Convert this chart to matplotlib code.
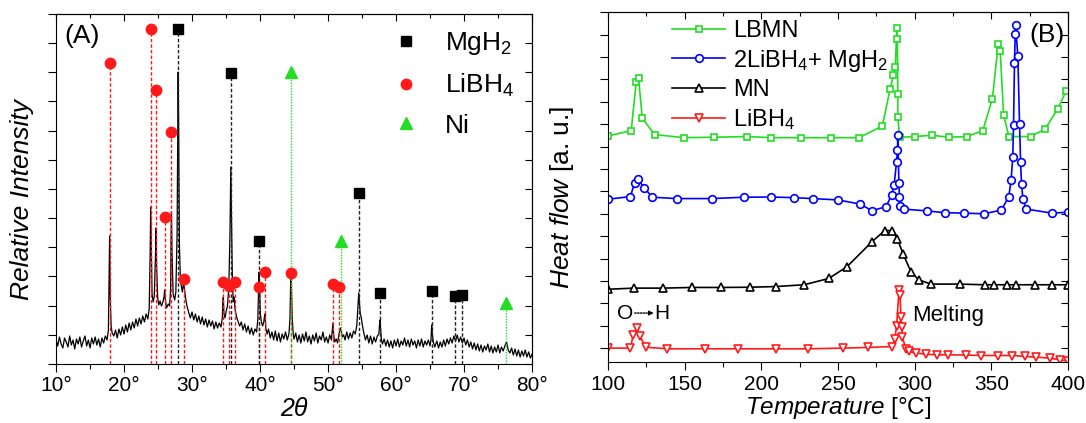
import matplotlib
matplotlib.use('Agg')
import matplotlib.pyplot as plt
import numpy as np
from matplotlib.ticker import MultipleLocator, NullFormatter

plt.rcParams['font.family'] = ['Liberation Sans', 'DejaVu Sans']
plt.rcParams['mathtext.fontset'] = 'custom'
plt.rcParams['mathtext.rm'] = 'Liberation Sans'
plt.rcParams['mathtext.it'] = 'Liberation Sans:italic'

GREEN = '#22DD22'
RED = '#FF1A1A'
BLUE = '#0000FF'

# ── (A) XRD scan (2theta, counts) ─────────────────────────────────────────────
xrd_scan = [
    (10.00, 24), (10.25, 18), (10.50, 27), (10.75, 20), (11.00, 16), (11.25, 26),
    (11.50, 22), (11.75, 17), (12.00, 28), (12.25, 19), (12.50, 24), (12.75, 15),
    (13.00, 25), (13.25, 20), (13.50, 27), (13.75, 17), (14.00, 23), (14.25, 28),
    (14.50, 18), (14.75, 24), (15.00, 16), (15.25, 26), (15.50, 20), (15.75, 27),
    (16.00, 19), (16.25, 25), (16.50, 17), (16.75, 26), (17.00, 21), (17.25, 28),
    (17.50, 24), (17.70, 34), (17.82, 95), (17.88, 128), (17.96, 70), (18.10, 38),
    (18.25, 31), (18.50, 28), (18.75, 34), (19.00, 26), (19.25, 35), (19.50, 29),
    (19.75, 37), (20.00, 30), (20.25, 39), (20.50, 32), (20.75, 41), (21.00, 34),
    (21.25, 42), (21.50, 36), (21.75, 45), (22.00, 38), (22.25, 46), (22.50, 40),
    (22.75, 48), (23.00, 42), (23.25, 50), (23.50, 45), (23.70, 55), (23.84, 110),
    (23.92, 157), (24.00, 120), (24.12, 70), (24.28, 62), (24.45, 68), (24.63, 110),
    (24.71, 136), (24.80, 95), (24.95, 66), (25.10, 59), (25.30, 63), (25.50, 58),
    (25.72, 62), (25.90, 68), (25.97, 74), (26.08, 64), (26.25, 56), (26.50, 60),
    (26.70, 58), (26.85, 75), (26.92, 130), (26.97, 152), (27.06, 110), (27.22, 70),
    (27.45, 64), (27.62, 72), (27.80, 130), (27.90, 240), (27.96, 292), (28.04, 230),
    (28.14, 120), (28.28, 86), (28.42, 78), (28.58, 72), (28.76, 82), (28.90, 74),
    (29.05, 66), (29.25, 58), (29.50, 52), (29.75, 46), (30.00, 52), (30.25, 44),
    (30.50, 50), (30.75, 42), (31.00, 48), (31.25, 40), (31.50, 47), (31.75, 39),
    (32.00, 45), (32.25, 37), (32.50, 44), (32.75, 38), (33.00, 43), (33.25, 35),
    (33.50, 42), (33.75, 36), (34.00, 41), (34.25, 37), (34.45, 46), (34.52, 60),
    (34.60, 67), (34.70, 50), (34.85, 46), (35.00, 52), (35.20, 58), (35.40, 75),
    (35.58, 130), (35.70, 197), (35.80, 150), (35.92, 90), (36.05, 62), (36.20, 67),
    (36.32, 55), (36.45, 50), (36.60, 46), (36.80, 42), (37.00, 38), (37.25, 42),
    (37.50, 34), (37.75, 40), (38.00, 32), (38.25, 38), (38.50, 30), (38.75, 36),
    (39.00, 29), (39.25, 35), (39.50, 32), (39.68, 45), (39.80, 80), (39.87, 92),
    (39.95, 75), (40.05, 50), (40.20, 42), (40.38, 38), (40.55, 42), (40.66, 48),
    (40.74, 50), (40.85, 36), (41.05, 30), (41.25, 35), (41.50, 26), (41.75, 32),
    (42.00, 24), (42.25, 33), (42.50, 23), (42.75, 31), (43.00, 22), (43.25, 30),
    (43.50, 25), (43.75, 32), (44.00, 24), (44.25, 30), (44.40, 45), (44.50, 80),
    (44.56, 92), (44.64, 70), (44.74, 45), (44.88, 30), (45.00, 25), (45.25, 31),
    (45.50, 22), (45.75, 29), (46.00, 21), (46.25, 30), (46.50, 23), (46.75, 32),
    (47.00, 22), (47.25, 28), (47.50, 20), (47.75, 29), (48.00, 23), (48.25, 31),
    (48.50, 21), (48.75, 28), (49.00, 24), (49.25, 32), (49.50, 22), (49.75, 27),
    (50.00, 21), (50.25, 29), (50.50, 24), (50.64, 35), (50.72, 41), (50.84, 28),
    (51.00, 22), (51.20, 25), (51.40, 21), (51.62, 30), (51.80, 36), (51.95, 33),
    (52.10, 27), (52.30, 29), (52.50, 24), (52.75, 32), (53.00, 25), (53.25, 31),
    (53.50, 26), (53.75, 33), (54.00, 30), (54.22, 38), (54.38, 55), (54.52, 71),
    (54.62, 62), (54.74, 50), (54.88, 47), (55.02, 40), (55.20, 33), (55.50, 24),
    (55.75, 29), (56.00, 21), (56.25, 28), (56.50, 20), (56.75, 27), (57.00, 22),
    (57.25, 28), (57.48, 30), (57.62, 44), (57.72, 36), (57.85, 24), (58.00, 20),
    (58.25, 25), (58.50, 18), (58.75, 24), (59.00, 17), (59.25, 23), (59.50, 16),
    (59.75, 24), (60.00, 18), (60.25, 25), (60.50, 17), (60.75, 23), (61.00, 19),
    (61.25, 26), (61.50, 18), (61.75, 24), (62.00, 17), (62.25, 25), (62.50, 19),
    (62.75, 23), (63.00, 16), (63.25, 24), (63.50, 18), (63.75, 25), (64.00, 17),
    (64.25, 23), (64.50, 19), (64.75, 24), (65.00, 18), (65.15, 25), (65.24, 39),
    (65.34, 30), (65.48, 22), (65.70, 17), (66.00, 23), (66.25, 16), (66.50, 22),
    (66.75, 17), (67.00, 24), (67.25, 18), (67.50, 25), (67.75, 20), (68.00, 26),
    (68.25, 21), (68.50, 28), (68.75, 23), (69.00, 29), (69.25, 22), (69.50, 27),
    (69.75, 21), (70.00, 26), (70.25, 19), (70.50, 24), (70.75, 17), (71.00, 22),
    (71.25, 15), (71.50, 21), (71.75, 14), (72.00, 20), (72.25, 13), (72.50, 19),
    (72.75, 12), (73.00, 18), (73.25, 14), (73.50, 20), (73.75, 12), (74.00, 18),
    (74.25, 11), (74.50, 17), (74.75, 12), (75.00, 19), (75.25, 11), (75.50, 17),
    (75.75, 13), (76.00, 18), (76.25, 22), (76.50, 14), (76.75, 11), (77.00, 16),
    (77.25, 9), (77.50, 15), (77.75, 8), (78.00, 14), (78.25, 7), (78.50, 13),
    (78.75, 8), (79.00, 14), (79.25, 7), (79.50, 12), (79.75, 6), (80.00, 10),
]
two_theta = [p[0] for p in xrd_scan]
counts = [p[1] for p in xrd_scan]

# reflection markers (position, marker height)
mgh2_pos = [27.96, 35.74, 39.88, 54.54, 57.64, 65.25, 68.6, 69.7]
mgh2_h = [335, 291, 123, 171, 71, 73, 68, 69]
libh4_pos = [17.88, 23.92, 24.71, 25.97, 26.96, 28.80, 34.58, 35.45, 36.26,
             39.78, 40.73, 44.56, 50.70, 51.65]
libh4_h = [301, 335, 274, 147, 232, 85, 82, 78, 82, 77, 92, 91, 80, 77]
ni_pos = [44.56, 51.91, 76.23]
ni_h = [292, 123, 61]

xrd_ticks = [10, 20, 30, 40, 50, 60, 70, 80]
xrd_ticklabels = [f'{t}°' for t in xrd_ticks]

# ── (B) DSC traces ────────────────────────────────────────────────────────────
lbmn_T = [100, 115.1, 118.4, 119.9, 122.3, 130.4, 149.5, 169.4, 190.6, 206.3,
          226.0, 245.3, 263.7, 278.9, 284.0, 286.1, 287.4, 288.3, 288.7, 289.0,
          289.0, 290.2, 300.2, 311.2, 322.1, 333.9, 344.4, 350.7, 354.5, 355.8,
          358.0, 361.5, 375.7, 385.1, 393.2, 398.7]
lbmn_q = [9.48, 9.71, 11.90, 12.08, 10.28, 9.54, 9.40, 9.42, 9.45, 9.40,
          9.40, 9.40, 9.40, 9.92, 11.58, 12.19, 12.57, 14.29, 13.79, 11.35,
          10.31, 9.42, 9.45, 9.51, 9.42, 9.45, 9.71, 11.14, 13.57, 13.27,
          10.42, 9.45, 9.45, 9.79, 10.67, 11.47]

mix_T = [100, 114.6, 117.3, 119.7, 123.4, 128.9, 144.9, 167.8, 188.4, 206.6,
         221.2, 233.5, 249.9, 264.1, 272.2, 281.4, 284.9, 286.6, 288.2, 288.8,
         289.0, 289.7, 290.1, 290.3, 292.9, 307.8, 319.6, 331.9, 345.4, 356.6,
         361.4, 362.9, 364.0, 364.5, 365.1, 365.6, 365.8, 367.3, 368.4, 369.1,
         369.7, 370.6, 372.8, 389.6, 400]
mix_q = [6.65, 6.77, 7.39, 7.54, 7.17, 6.74, 6.68, 6.68, 6.74, 6.75,
         6.72, 6.68, 6.62, 6.44, 6.14, 6.32, 6.84, 7.29, 8.33, 8.85,
         9.52, 7.39, 6.77, 6.35, 6.21, 6.13, 6.05, 6.03, 6.00, 6.17,
         6.77, 7.51, 8.53, 9.97, 12.72, 14.02, 14.43, 13.05, 10.01, 8.30,
         7.33, 6.66, 6.21, 6.03, 6.07]

mn_T = [100, 116.9, 135.9, 154.5, 173.8, 192.8, 209.3, 227.9, 243.9, 255.9,
        272.3, 280.4, 285.5, 288.8, 292.5, 297.5, 302.6, 310.7, 329.3, 345.7,
        351.6, 360.0, 366.1, 378.6, 389.5, 400]
mn_q = [2.63, 2.68, 2.68, 2.71, 2.71, 2.72, 2.75, 2.83, 3.11, 3.64,
        4.76, 5.25, 5.25, 4.87, 4.20, 3.42, 3.05, 2.86, 2.86, 2.83,
        2.83, 2.83, 2.83, 2.83, 2.83, 2.83]

libh4_T = [100, 114.6, 116.4, 118.6, 120.8, 124.5, 138.7, 163.2, 184.7, 209.4,
           230.2, 253.0, 269.6, 285.4, 287.1, 288.2, 289.8, 290.4, 291.1, 291.5,
           292.0, 294.2, 296.4, 300.8, 307.3, 314.3, 322.0, 333.6, 343.5, 354.4,
           363.8, 371.9, 379.1, 388.3, 394.9, 400]
libh4_q = [0.00, 0.00, 0.59, 0.89, 0.55, 0.04, -0.03, -0.03, -0.03, -0.03,
           -0.03, 0.00, 0.03, 0.07, 0.41, 0.99, 2.60, 2.38, 1.41, 0.94,
           0.49, -0.03, -0.15, -0.22, -0.27, -0.30, -0.30, -0.31, -0.33, -0.33,
           -0.33, -0.37, -0.40, -0.45, -0.52, -0.58]

dsc_ticks = [100, 150, 200, 250, 300, 350, 400]


def mirror_ticks(ax, xmajor, xminor, ymajor):
    # left/bottom ticks point out, top/right point in
    top = ax.secondary_xaxis('top')
    top.xaxis.set_major_locator(MultipleLocator(xmajor))
    top.xaxis.set_minor_locator(MultipleLocator(xminor))
    top.xaxis.set_major_formatter(NullFormatter())
    top.tick_params(which='major', direction='in', length=5, width=0.8)
    top.tick_params(which='minor', direction='in', length=3, width=0.8)
    right = ax.secondary_yaxis('right')
    right.set_yticks(ymajor)
    right.yaxis.set_major_formatter(NullFormatter())
    right.tick_params(direction='in', length=5, width=0.8)


fig = plt.figure(figsize=(10.86, 4.23), dpi=100)
axA = fig.add_axes([0.0516, 0.1395, 0.4383, 0.8274])
axB = fig.add_axes([0.5599, 0.1442, 0.4235, 0.8267])

# ===========================================================================
# (A)
# ===========================================================================
axA.plot(two_theta, counts, color='black', lw=0.9, zorder=2)
axA.vlines(libh4_pos, 0, libh4_h, colors=RED, linestyles=(0, (2.5, 1.5)),
           lw=1.0, zorder=3)
axA.vlines(mgh2_pos, 0, mgh2_h, colors='#222222', linestyles=(0, (2.5, 1.5)),
           lw=1.0, zorder=3)
axA.vlines(ni_pos, 0, ni_h, colors=GREEN, linestyles=(0, (1, 1)), lw=1.0,
           zorder=3)
axA.plot(mgh2_pos, mgh2_h, 's', color='black', ms=6.5, zorder=5,
         label='MgH$_2$')
axA.plot(libh4_pos, libh4_h, 'o', color=RED, ms=7.5, zorder=5,
         label='LiBH$_4$')
axA.plot(ni_pos, ni_h, '^', color=GREEN, ms=8, zorder=5, label='Ni')

axA.set_xlim(10, 80)
axA.set_ylim(0, 350)
axA.set_xticks(xrd_ticks)
axA.set_xticklabels(xrd_ticklabels)
axA.xaxis.set_minor_locator(MultipleLocator(5))
a_yt = np.linspace(0, 350, 13)
axA.set_yticks(a_yt)
axA.yaxis.set_major_formatter(NullFormatter())
axA.tick_params(which='major', direction='out', length=6, width=0.8,
                labelsize=15, pad=3)
axA.tick_params(which='minor', direction='out', length=3.5, width=0.8)
mirror_ticks(axA, 10, 5, a_yt)

axA.set_xlabel('2θ', fontsize=18, style='italic')
axA.xaxis.set_label_coords(0.5, -0.093)
axA.set_ylabel('Relative Intensity', fontsize=19, style='italic')
axA.yaxis.set_label_coords(-0.046, 0.47)
axA.text(0.017, 0.936, '(A)', transform=axA.transAxes, fontsize=19,
         ha='left', va='center')
axA.legend(loc='upper left', bbox_to_anchor=(0.707, 0.953), frameon=False,
           fontsize=19, handlelength=1.0, handletextpad=1.0,
           labelspacing=0.55, borderpad=0, borderaxespad=0, numpoints=1)

# ===========================================================================
# (B)
# ===========================================================================
mk = dict(mfc='white', mew=1.2, lw=1.2)
axB.plot(lbmn_T, lbmn_q, '-s', color=GREEN, ms=5, label='LBMN', **mk)
axB.plot(mix_T, mix_q, '-o', color=BLUE, ms=5.5,
         label='2LiBH$_4$+ MgH$_2$', **mk)
axB.plot(mn_T, mn_q, '-^', color='black', ms=6, label='MN', **mk)
axB.plot(libh4_T, libh4_q, '-v', color=RED, ms=6, label='LiBH$_4$', **mk)

axB.set_xlim(100, 400)
axB.set_ylim(-0.62, 15)
axB.set_xticks(dsc_ticks)
axB.xaxis.set_minor_locator(MultipleLocator(25))
b_yt = np.arange(0, 16)
axB.set_yticks(b_yt)
axB.yaxis.set_major_formatter(NullFormatter())
axB.tick_params(which='major', direction='out', length=6, width=0.8,
                labelsize=15, pad=3)
axB.tick_params(which='minor', direction='out', length=3.5, width=0.8)
mirror_ticks(axB, 50, 25, b_yt)

axB.set_xlabel(r'$\mathit{Temperature}$ [°C]', fontsize=17.5)
axB.xaxis.set_label_coords(0.5, -0.093)
axB.set_ylabel(r'$\mathit{Heat\ flow}$ [a. u.]', fontsize=19)
axB.yaxis.set_label_coords(-0.070, 0.47)
axB.text(0.993, 0.934, '(B)', transform=axB.transAxes, fontsize=19,
         ha='right', va='center')

# annotations
axB.text(0.037, 0.14, 'O', transform=axB.transAxes, fontsize=15,
         ha='center', va='center')
axB.text(0.117, 0.14, 'H', transform=axB.transAxes, fontsize=15,
         ha='center', va='center')
axB.annotate('', xy=(0.092, 0.14), xytext=(0.058, 0.14),
             xycoords='axes fraction',
             arrowprops=dict(arrowstyle='-', linestyle=(0, (1, 1)), lw=1.0,
                             color='black', shrinkA=0, shrinkB=0))
axB.annotate('', xy=(0.099, 0.14), xytext=(0.090, 0.14),
             xycoords='axes fraction',
             arrowprops=dict(arrowstyle='-|>', lw=0.8, color='black',
                             mutation_scale=7, shrinkA=0, shrinkB=0))
axB.text(0.661, 0.134, 'Melting', transform=axB.transAxes, fontsize=16,
         ha='left', va='center')

axB.legend(loc='upper left', bbox_to_anchor=(0.139, 0.978), frameon=False,
           fontsize=17, handlelength=2.25, handletextpad=0.35,
           labelspacing=0.24, borderpad=0, borderaxespad=0)

fig.savefig('out.png', dpi=100)
